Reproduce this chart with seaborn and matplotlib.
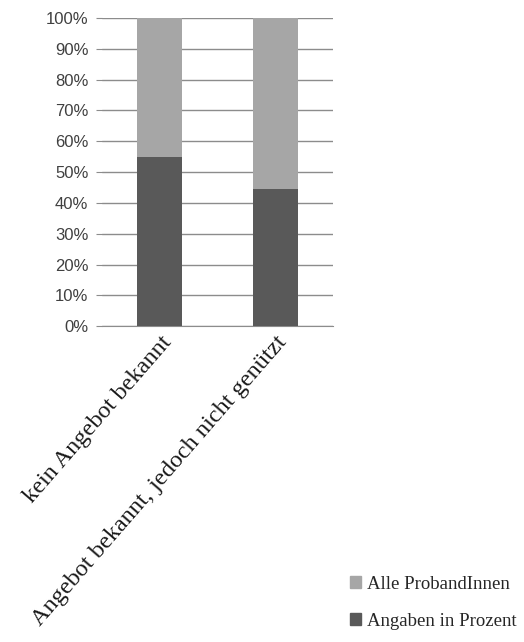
import matplotlib
matplotlib.use("Agg")
import matplotlib.pyplot as plt
import seaborn as sns
from matplotlib.patches import Patch
from matplotlib.ticker import PercentFormatter

# === Data ===
categories = ["kein Angebot bekannt", "Angebot bekannt, jedoch nicht genützt"]
angaben_prozent = [55.0, 44.5]
alle_probanden = [100.0, 100.0]
series_labels = ["Alle ProbandInnen", "Angaben in Prozent"]

light_gray = "#a6a6a6"
dark_gray = "#595959"

sns.set_style("white")
fig = plt.figure(figsize=(5.24, 6.42), dpi=100)
ax = fig.add_axes([0.195, 0.492, 0.44, 0.48])

# stacked bars: total in light, share in dark on top
sns.barplot(x=categories, y=alle_probanden, color=light_gray, width=0.39,
            saturation=1, linewidth=0, ax=ax, zorder=2)
sns.barplot(x=categories, y=angaben_prozent, color=dark_gray, width=0.39,
            saturation=1, linewidth=0, ax=ax, zorder=3)

ax.set_ylim(0, 100)
ax.set_xlim(-0.5, 1.5)
ax.set_yticks(range(0, 101, 10))
ax.yaxis.set_major_formatter(PercentFormatter(decimals=0))
ax.grid(axis="y", color="#8c8c8c", linewidth=1.0, zorder=0)
ax.set_axisbelow(True)

for side in ["top", "right", "left"]:
    ax.spines[side].set_visible(False)
ax.spines["bottom"].set_color("#8c8c8c")

ax.tick_params(axis="y", length=4, color="#8c8c8c", pad=6,
               labelsize=12, labelcolor="#404040", left=True)
for t in ax.get_yticklabels():
    t.set_fontfamily("Liberation Sans")

ax.set_xticks([-0.5, 0.5, 1.5], minor=True)
ax.tick_params(axis="x", which="minor", length=4, color="#8c8c8c")
ax.tick_params(axis="x", which="major", length=0, pad=4)
ax.set_xticklabels(categories, rotation=49, ha="right", rotation_mode="anchor",
                   fontsize=17.5, fontfamily="Liberation Serif", color="#1a1a1a")

handles = [Patch(color=light_gray), Patch(color=dark_gray)]
fig.legend(handles, series_labels, loc="upper left",
           bbox_to_anchor=(0.668, 0.103), frameon=False,
           prop={"family": "Liberation Serif", "size": 13.5},
           handlelength=0.6, handleheight=0.6, handletextpad=0.3,
           labelspacing=1.05, borderaxespad=0, borderpad=0)

fig.savefig("out.png", dpi=100)
